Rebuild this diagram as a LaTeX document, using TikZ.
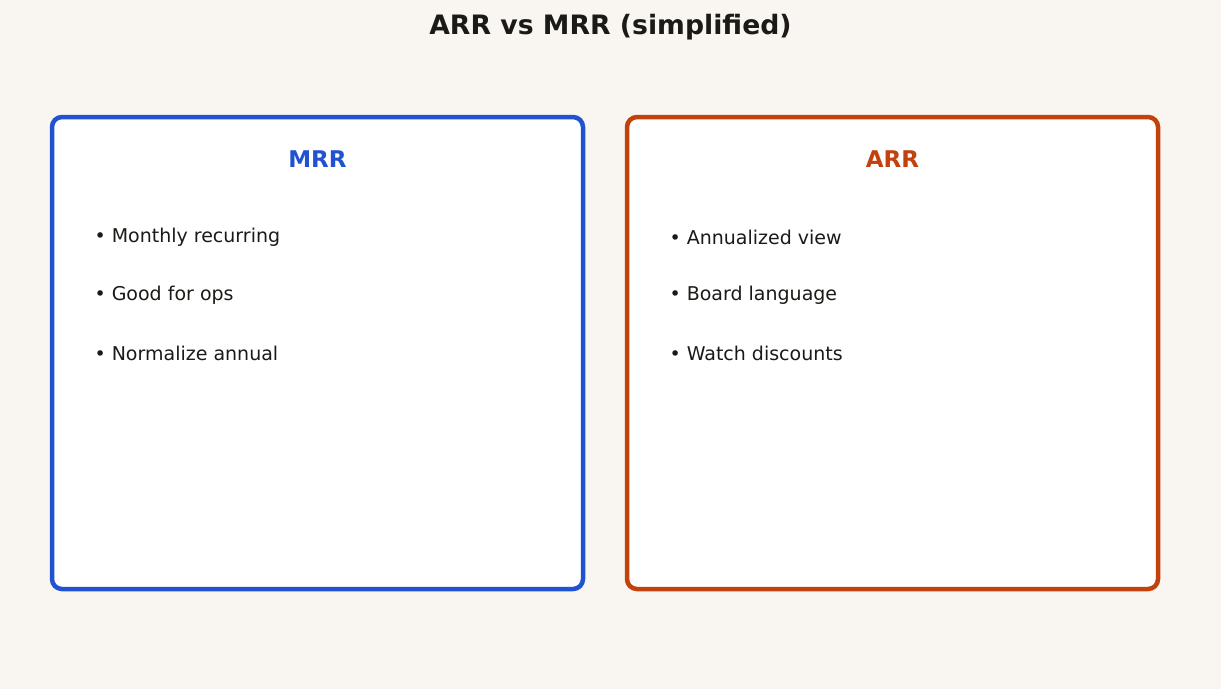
\documentclass[tikz,border=0pt]{standalone}
\usepackage{fontspec}
\setmainfont{DejaVu Sans}
\definecolor{bg}{HTML}{F9F6F1}
\definecolor{blu}{HTML}{2152D1}
\definecolor{org}{HTML}{C2410C}
\definecolor{ink}{HTML}{1C1A17}
\begin{document}
\begin{tikzpicture}[x=1pt,y=-1pt,
  card/.style={draw=#1,line width=4.5pt,rounded corners=10pt,fill=white},
  head/.style={text=#1,font=\bfseries\fontsize{23}{27}\selectfont},
  item/.style={anchor=west,text=ink,font=\fontsize{19}{22}\selectfont}]
\fill[bg] (0,0) rectangle (1221,689);
\useasboundingbox (0,0) rectangle (1221,689);
\node[text=ink,font=\bfseries\fontsize{26.7}{32}\selectfont] (title) at (610.5,27) {ARR vs MRR (simplified)};
\draw[card=blu] (52,117) rectangle (583,589);
\draw[card=org] (627,117) rectangle (1158,589);
\node[head=blu] (mrr) at (317.5,159) {MRR};
\node[head=org] (arr) at (892.5,159) {ARR};
\node[item] (m1) at (91,237) {• Monthly recurring};
\node[item] (m2) at (91,295) {• Good for ops};
\node[item] (m3) at (91,353) {• Normalize annual};
\node[item] (a1) at (666,237) {• Annualized view};
\node[item] (a2) at (666,295) {• Board language};
\node[item] (a3) at (666,353) {• Watch discounts};
\end{tikzpicture}
\end{document}
